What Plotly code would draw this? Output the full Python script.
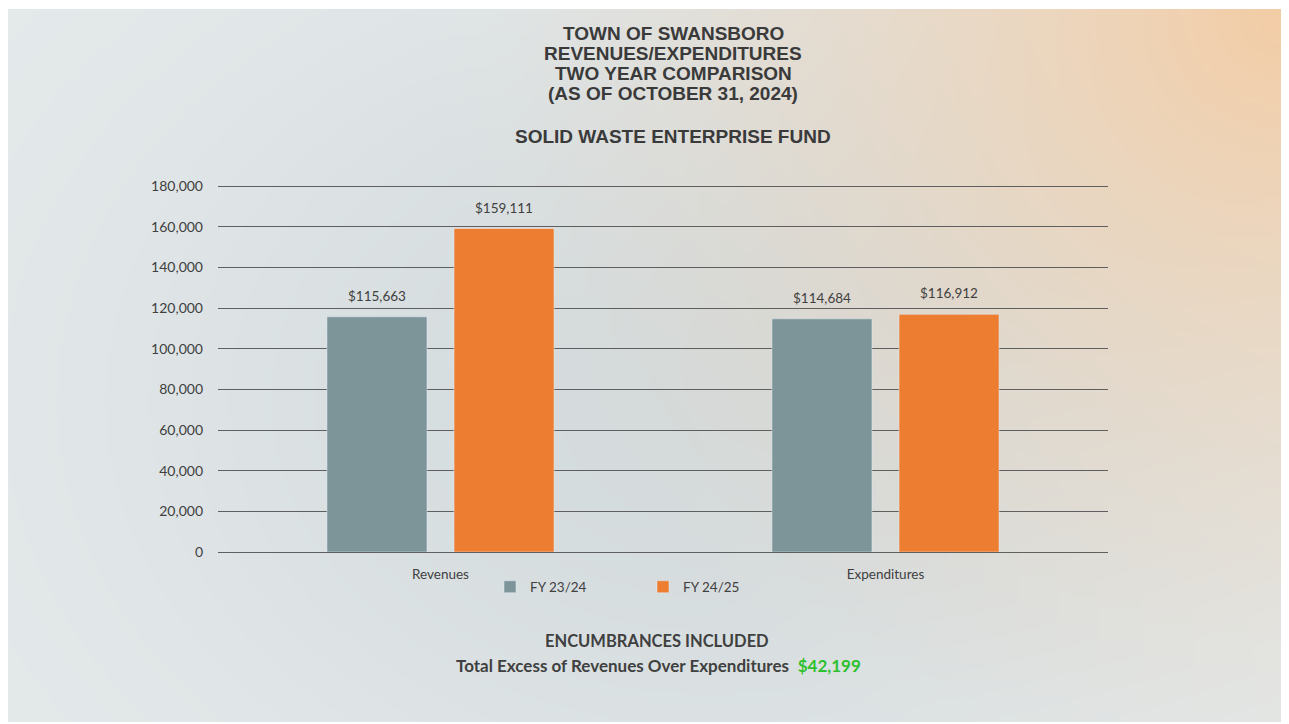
import base64, struct, zlib
import numpy as np
import plotly.graph_objects as go

# ---------------- data ----------------
categories = ["Revenues", "Expenditures"]
series_names = ["FY 23/24", "FY 24/25"]
fy2324 = [115663, 114684]
fy2425 = [159111, 116912]
y_ticks = list(range(0, 180001, 20000))
title_lines = ["TOWN OF SWANSBORO", "REVENUES/EXPENDITURES", "TWO YEAR COMPARISON",
               "(AS OF OCTOBER 31, 2024)"]
subtitle = "SOLID WASTE ENTERPRISE FUND"
note_line1 = "ENCUMBRANCES INCLUDED"
note_line2 = "Total Excess of Revenues Over Expenditures"
excess_value = 42199

# ---------------- figure geometry (page has an 8px body margin) ----------------
OFF = 8
W, H = 1289 - OFF, 724 - OFF
Y_MAX = 181000  # a little headroom so the 180,000 gridline is drawn
L, R, B = 218 - OFF, 1108 - OFF, 552 - OFF
T = B - round((552 - 186) * Y_MAX / 180000)
pw, ph = R - L, B - T
BARGAP, GROUPGAP = 0.429, 0.213
slot = pw / len(categories) * (1 - BARGAP) / 2  # width of one group slot in px

def px_x(x):  # x given in screen coordinates
    return (x - OFF - L) / pw

def px_y(y):
    return (B - (y - OFF)) / ph

# ---------------- background gradient image ----------------
def make_bg(w=320, h=180):
    yy, xx = np.mgrid[0:h, 0:w].astype(float)
    u = xx / (w - 1)
    v = yy / (h - 1)
    base_edge = np.array([230, 235, 236], float)
    base_mid = np.array([212, 219, 221], float)
    dm = np.exp(-(((u - 0.55) / 0.45) ** 2 + ((v - 0.55) / 0.6) ** 2))
    base = base_edge[None, None, :] * (1 - dm[..., None]) + base_mid[None, None, :] * dm[..., None]
    peach = np.array([243, 205, 166], float)
    d = np.sqrt(((1 - u) * 1.78) ** 2 + (v * 1.0) ** 2)
    wgt = np.clip(1 - d / 1.2, 0, 1) ** 1.5
    img = base * (1 - wgt[..., None]) + peach[None, None, :] * wgt[..., None]
    return np.clip(img, 0, 255).astype(np.uint8)

def png_uri(arr):
    h, w, _ = arr.shape
    raw = b"".join(b"\x00" + arr[i].tobytes() for i in range(h))
    def chunk(tag, data):
        c = struct.pack(">I", len(data)) + tag + data
        return c + struct.pack(">I", zlib.crc32(tag + data) & 0xFFFFFFFF)
    png = b"\x89PNG\r\n\x1a\n" + chunk(b"IHDR", struct.pack(">IIBBBBB", w, h, 8, 2, 0, 0, 0)) \
        + chunk(b"IDAT", zlib.compress(raw, 9)) + chunk(b"IEND", b"")
    return "data:image/png;base64," + base64.b64encode(png).decode()

bg = png_uri(make_bg())

# ---------------- traces ----------------
SANS = "Lato, Open Sans, sans-serif"
fig = go.Figure()
fig.add_trace(go.Bar(x=categories, y=fy2324, name=series_names[0], marker_color="#7d9598"))
fig.add_trace(go.Bar(x=categories, y=fy2425, name=series_names[1], marker_color="#ed7d31"))

# ---------------- annotations ----------------
ann = []
label_font = dict(family=SANS, size=13.5, color="#404040")
for vals, shift in ((fy2324, -slot / 2), (fy2425, slot / 2)):
    for cat, v in zip(categories, vals):
        ann.append(dict(text=f"${v:,}", x=cat, y=v, xref="x", yref="y", xshift=shift,
                        yshift=11, showarrow=False, xanchor="center", yanchor="bottom",
                        font=label_font))

title_font = dict(family="Liberation Sans, Arial, sans-serif", size=19, color="#3a3a3a")
for line, yy in zip(title_lines, [33, 53, 74, 94]):
    ann.append(dict(text=f"<b>{line}</b>", x=px_x(673), y=px_y(yy), xref="paper", yref="paper",
                    showarrow=False, xanchor="center", yanchor="middle", font=title_font))
ann.append(dict(text=f"<b>{subtitle}</b>", x=px_x(673), y=px_y(137), xref="paper", yref="paper",
                showarrow=False, xanchor="center", yanchor="middle", font=title_font))
ann.append(dict(text=f"<b>{note_line1}</b>", x=px_x(657), y=px_y(641), xref="paper", yref="paper",
                showarrow=False, xanchor="center", yanchor="middle",
                font=dict(family=SANS, size=16.5, color="#404040")))
ann.append(dict(text=f"<b>{note_line2}</b>  <b><span style='color:#2ec12e'>${excess_value:,}</span></b>",
                x=px_x(658), y=px_y(665), xref="paper", yref="paper",
                showarrow=False, xanchor="center", yanchor="middle",
                font=dict(family=SANS, size=17, color="#404040")))

fig.update_layout(
    width=W, height=H,
    margin=dict(l=L, r=W - R, t=T, b=H - B, pad=0),
    paper_bgcolor="white", plot_bgcolor="rgba(0,0,0,0)",
    barmode="group", bargap=BARGAP, bargroupgap=GROUPGAP,
    showlegend=True,
    legend=dict(orientation="h", x=px_x(490), y=px_y(587), xanchor="left", yanchor="middle",
                entrywidth=108, entrywidthmode="pixels", itemwidth=30,
                font=dict(family=SANS, size=13.5, color="#404040"),
                bgcolor="rgba(0,0,0,0)"),
    images=[dict(source=bg, xref="paper", yref="paper", x=px_x(5), y=px_y(9),
                 sizex=1280 / pw, sizey=713 / ph, sizing="stretch", layer="below",
                 xanchor="left", yanchor="top")],
    annotations=ann,
    font=dict(family=SANS, color="#404040"),
)
fig.update_yaxes(range=[0, Y_MAX], tickvals=y_ticks, tickformat=",", showgrid=True,
                 gridcolor="#5f5f5f", gridwidth=1, zeroline=True, zerolinecolor="#5f5f5f",
                 zerolinewidth=1, ticks="", ticklabelstandoff=14,
                 tickfont=dict(family=SANS, size=14, color="#404040"))
fig.update_xaxes(showgrid=False, ticks="", ticklabelstandoff=12, showline=False,
                 tickfont=dict(family=SANS, size=13.5, color="#404040"))

fig.write_html("out.html")
